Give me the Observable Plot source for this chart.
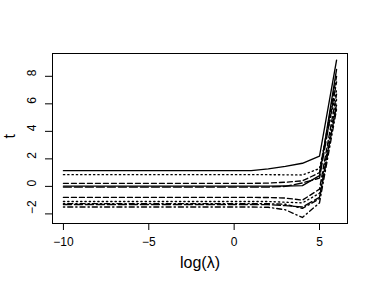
<!DOCTYPE html>
<html><head><meta charset="utf-8">
<script src="https://cdn.jsdelivr.net/npm/d3@7"></script>
<script src="https://cdn.jsdelivr.net/npm/@observablehq/plot@0.6"></script>
<style>body{margin:0;background:#fff}</style>
</head><body><div id="chart"></div>
<script>
const xs = [-10,-9,-8,-7,-6,-5,-4,-3,-2,-1,0,1,2,3,4,5,6];
const s1  = [1.14,1.14,1.14,1.14,1.14,1.14,1.14,1.14,1.14,1.14,1.14,1.14,1.27,1.45,1.68,2.19,9.17];
const s2  = [0.22,0.22,0.22,0.22,0.22,0.22,0.22,0.22,0.22,0.22,0.22,0.22,0.24,0.30,0.40,1.00,8.00];
const s3  = [0.85,0.85,0.85,0.85,0.85,0.85,0.85,0.85,0.85,0.85,0.85,0.85,0.85,0.84,0.83,1.30,7.00];
const s4  = [-1.25,-1.25,-1.25,-1.25,-1.25,-1.25,-1.25,-1.25,-1.25,-1.25,-1.25,-1.25,-1.26,-1.30,-1.60,-0.90,6.00];
const s5  = [-0.05,-0.05,-0.05,-0.05,-0.05,-0.05,-0.05,-0.05,-0.05,-0.05,-0.05,-0.05,-0.05,0.00,0.25,0.60,7.60];
const s6  = [0.02,0.02,0.02,0.02,0.02,0.02,0.02,0.02,0.02,0.02,0.02,0.02,0.02,0.03,0.05,0.78,8.50];
const s7  = [-0.80,-0.80,-0.80,-0.80,-0.80,-0.80,-0.80,-0.80,-0.80,-0.80,-0.80,-0.80,-0.81,-0.85,-1.00,-0.20,6.70];
const s8  = [-1.10,-1.10,-1.10,-1.10,-1.10,-1.10,-1.10,-1.10,-1.10,-1.10,-1.10,-1.10,-1.10,-1.15,-1.20,-0.50,6.30];
const s9  = [-1.50,-1.50,-1.50,-1.50,-1.50,-1.50,-1.50,-1.50,-1.50,-1.50,-1.50,-1.50,-1.52,-1.70,-2.26,-1.20,5.60];
const s10 = [-1.32,-1.32,-1.32,-1.32,-1.32,-1.32,-1.32,-1.32,-1.32,-1.32,-1.32,-1.32,-1.33,-1.40,-1.50,-0.80,5.90];
const series = [s1,s2,s3,s4,s5,s6,s7,s8,s9,s10];
const xTicks = [-10,-5,0,5];
const yTicks = [-2,0,2,4,6,8];
const xLabel = "log(λ)";
const yLabel = "t";

// R lty cycle: solid, dashed, dotted, dotdash, longdash
const dashes = [null, "5,3", "1.3,3", "1.3,3,5,3", "8,3"];
const fmt = d => d < 0 ? "\u2212" + (-d) : String(d);

const lineMarks = series.map((s, i) => Plot.line(xs.map((x, j) => ({x, y: s[j]})), {
  x: "x", y: "y", stroke: "black", strokeWidth: 1.35,
  strokeDasharray: dashes[i % 5] ?? undefined
}));

const chart = Plot.plot({
  width: 374, height: 291,
  marginLeft: 52, marginRight: 27, marginTop: 53, marginBottom: 68,
  style: {fontFamily: "'Liberation Sans', Arial, sans-serif", fontSize: "12px", color: "black", background: "white"},
  x: {domain: [-10.64, 6.64]},
  y: {domain: [-2.698, 9.658]},
  marks: [
    ...lineMarks,
    Plot.frame({stroke: "black", strokeWidth: 1}),
    Plot.axisX({ticks: xTicks, tickSize: 7, tickPadding: 7, tickFormat: fmt, fontSize: 12, label: null}),
    Plot.axisY({ticks: yTicks, tickSize: 7, tickFormat: () => "", label: null}),
    Plot.text(yTicks, {y: d => d, text: fmt, frameAnchor: "left", dx: -20, rotate: -90, fontSize: 12}),
    Plot.text([xLabel], {text: d => d, frameAnchor: "bottom", dy: 44, fontSize: 16}),
    Plot.text([yLabel], {text: d => d, frameAnchor: "left", dx: -43, rotate: -90, fontSize: 16})
  ]
});
document.getElementById("chart").appendChild(chart);
</script>
</body></html>
